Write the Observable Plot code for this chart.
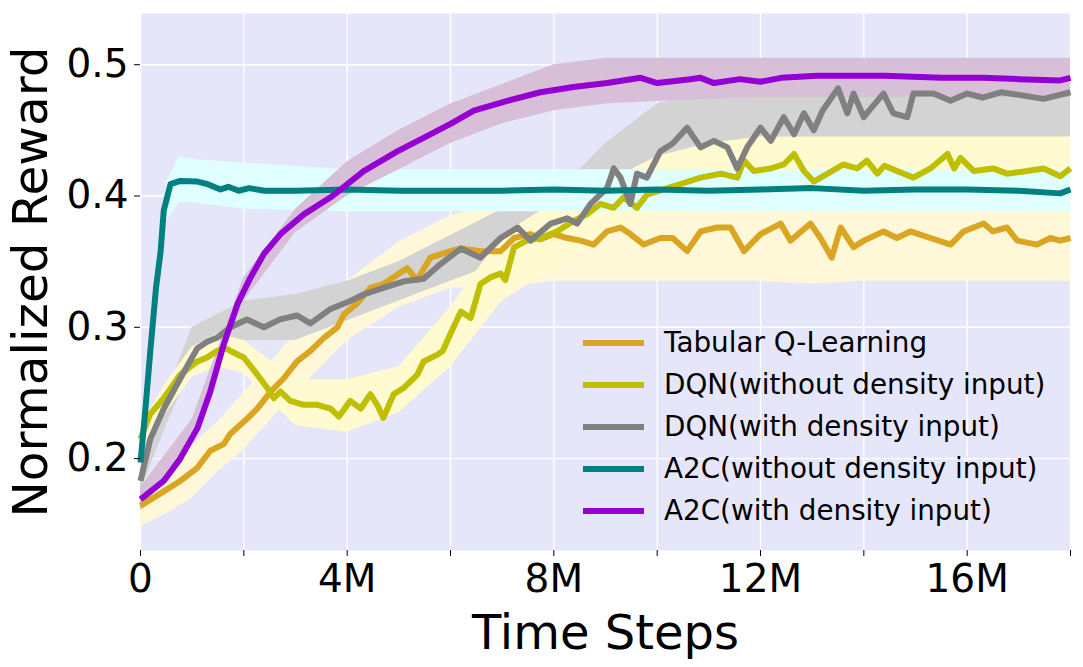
<!DOCTYPE html>
<html>
<head>
<meta charset="utf-8">
<script src="https://cdn.jsdelivr.net/npm/d3@7"></script>
<script src="https://cdn.jsdelivr.net/npm/@observablehq/plot@0.6"></script>
<style>
  html, body { margin: 0; padding: 0; background: #ffffff; }
  #wrap { position: relative; width: 1083px; height: 667px; font-family: "DejaVu Sans", sans-serif; }
  #legend { position: absolute; left: 583px; top: 322px; }
  .row { display: flex; align-items: center; height: 42px; }
  .sw { width: 61px; height: 6px; margin-right: 20px; }
  .lab { font-size: 27.8px; color: #000; white-space: nowrap; line-height: 1; }
</style>
</head>
<body>
<div id="wrap"><div id="legend"></div></div>
<script>
// ---- series names & colours ----
const seriesNames = ["Tabular Q-Learning", "DQN(without density input)", "DQN(with density input)", "A2C(without density input)", "A2C(with density input)"];
const lineColors = ["#DAA520", "#BFBF00", "#808080", "#008080", "#9400D3"];
const bandColors = ["#FFF8D8", "#FFFAD0", "#D3D3D3", "#E0FFFF", "#D8BFD8"];

// ---- x ticks (millions of steps) & y ticks ----
const xMajorTicks = [0, 4, 8, 12, 16];
const xMinorTicks = [2, 6, 10, 14, 18];
const xGrid = [0, 2, 4, 6, 8, 10, 12, 14, 16, 18];
const yTicks = [0.2, 0.3, 0.4, 0.5];

// ---- smoothed curves: [time (M), reward] ----
const tabularQ = [[0,0.164],[0.45,0.175],[0.77,0.183],[1.1,0.193],[1.35,0.206],[1.61,0.211],[1.74,0.219],[2.0,0.228],[2.26,0.238],[2.52,0.251],[2.77,0.261],[3.03,0.274],[3.29,0.282],[3.55,0.292],[3.81,0.300],[3.94,0.310],[4.19,0.318],[4.45,0.330],[4.7,0.333],[4.97,0.340],[5.16,0.345],[5.35,0.336],[5.61,0.353],[6.0,0.358],[6.2,0.360],[6.58,0.358],[6.97,0.358],[7.23,0.368],[7.55,0.371],[7.74,0.367],[8.0,0.371],[8.26,0.368],[8.52,0.366],[8.77,0.363],[9.03,0.373],[9.29,0.376],[9.48,0.371],[9.74,0.363],[10.06,0.368],[10.3,0.368],[10.58,0.358],[10.84,0.373],[11.16,0.376],[11.42,0.376],[11.68,0.358],[12.0,0.371],[12.39,0.379],[12.58,0.366],[12.97,0.379],[13.16,0.368],[13.38,0.353],[13.55,0.376],[13.8,0.361],[14.0,0.366],[14.38,0.373],[14.64,0.368],[14.9,0.373],[15.29,0.368],[15.68,0.363],[15.93,0.373],[16.32,0.379],[16.5,0.373],[16.77,0.376],[16.97,0.366],[17.35,0.363],[17.61,0.368],[17.8,0.366],[18,0.368]];
const dqnNoDensity = [[0,0.215],[0.19,0.234],[0.45,0.246],[0.77,0.264],[1.1,0.274],[1.29,0.277],[1.48,0.282],[1.65,0.284],[1.74,0.282],[2.0,0.277],[2.26,0.264],[2.45,0.254],[2.58,0.246],[2.71,0.251],[2.9,0.244],[3.16,0.241],[3.42,0.241],[3.68,0.238],[3.84,0.232],[4.06,0.244],[4.26,0.238],[4.45,0.249],[4.58,0.241],[4.7,0.231],[4.9,0.249],[5.1,0.254],[5.36,0.264],[5.48,0.274],[5.74,0.279],[5.85,0.282],[6.0,0.295],[6.2,0.312],[6.39,0.307],[6.58,0.333],[6.77,0.338],[6.97,0.341],[7.06,0.336],[7.23,0.361],[7.48,0.366],[7.74,0.368],[8.06,0.373],[8.38,0.381],[8.64,0.386],[8.9,0.394],[9.16,0.391],[9.35,0.399],[9.61,0.391],[9.8,0.401],[10.2,0.406],[10.45,0.409],[10.84,0.414],[11.23,0.417],[11.55,0.414],[11.68,0.427],[11.87,0.419],[12.2,0.421],[12.45,0.424],[12.65,0.432],[12.84,0.419],[13.03,0.411],[13.3,0.417],[13.6,0.424],[13.87,0.421],[14.06,0.427],[14.26,0.417],[14.4,0.423],[14.64,0.419],[14.96,0.414],[15.29,0.421],[15.62,0.432],[15.75,0.421],[15.87,0.429],[16.13,0.419],[16.5,0.421],[16.77,0.417],[17.16,0.419],[17.48,0.421],[17.8,0.415],[18,0.421]];
const dqnDensity = [[0,0.183],[0.19,0.215],[0.45,0.238],[0.77,0.261],[1.1,0.284],[1.29,0.289],[1.48,0.292],[1.74,0.300],[2.06,0.306],[2.39,0.300],[2.7,0.306],[3.03,0.309],[3.29,0.303],[3.68,0.314],[4.06,0.320],[4.32,0.325],[4.7,0.330],[5.1,0.335],[5.48,0.337],[5.8,0.348],[6.2,0.360],[6.58,0.353],[6.97,0.368],[7.3,0.376],[7.55,0.366],[7.94,0.379],[8.26,0.383],[8.45,0.379],[8.71,0.394],[9.03,0.406],[9.16,0.421],[9.29,0.414],[9.48,0.394],[9.61,0.417],[9.8,0.414],[10.06,0.434],[10.3,0.440],[10.58,0.452],[10.84,0.437],[11.1,0.442],[11.36,0.437],[11.55,0.421],[11.74,0.437],[12.0,0.452],[12.2,0.442],[12.45,0.460],[12.65,0.447],[12.84,0.463],[13.03,0.450],[13.2,0.465],[13.5,0.482],[13.68,0.463],[13.8,0.478],[14.0,0.460],[14.1,0.465],[14.38,0.478],[14.57,0.463],[14.84,0.460],[14.96,0.478],[15.35,0.478],[15.68,0.4725],[16.0,0.478],[16.3,0.475],[16.65,0.479],[17.0,0.477],[17.48,0.474],[18,0.479]];
const a2cNoDensity = [[0,0.197],[0.1,0.240],[0.19,0.282],[0.3,0.330],[0.39,0.358],[0.45,0.389],[0.58,0.409],[0.77,0.4115],[1.1,0.411],[1.3,0.409],[1.55,0.405],[1.7,0.407],[1.9,0.404],[2.1,0.406],[2.4,0.404],[3.0,0.404],[4,0.405],[5,0.404],[6,0.404],[7,0.404],[8,0.405],[9,0.404],[10,0.405],[11,0.404],[12,0.405],[13,0.406],[14,0.404],[15,0.405],[16,0.405],[17,0.404],[17.8,0.402],[18,0.405]];
const a2cDensity = [[0,0.169],[0.45,0.183],[0.77,0.200],[1.1,0.223],[1.35,0.251],[1.61,0.287],[1.88,0.318],[2.13,0.338],[2.39,0.356],[2.71,0.371],[3.16,0.386],[3.68,0.399],[4.32,0.419],[4.97,0.434],[5.61,0.447],[6.0,0.455],[6.45,0.465],[7.1,0.4725],[7.74,0.479],[8.38,0.483],[9.03,0.486],[9.68,0.490],[10.0,0.486],[10.64,0.489],[10.84,0.490],[11.1,0.486],[11.6,0.489],[12.0,0.487],[12.4,0.490],[13.1,0.4915],[14.4,0.4915],[15.5,0.490],[16.3,0.490],[17.0,0.489],[17.8,0.488],[18,0.490]];

// ---- raw-reward spread bands: [time (M), low, high] ----
const tabularQBand = [[0,0.148,0.180],[0.5,0.158,0.192],[1,0.170,0.210],[1.5,0.190,0.228],[2,0.207,0.250],[3,0.250,0.295],[4,0.290,0.335],[5,0.315,0.365],[6,0.330,0.385],[7,0.330,0.395],[8,0.335,0.405],[9,0.335,0.410],[10,0.335,0.405],[11,0.335,0.410],[12,0.335,0.410],[13,0.333,0.410],[14,0.335,0.405],[15,0.335,0.405],[16,0.335,0.410],[17,0.335,0.405],[18,0.335,0.405]];
const dqnNoDensityBand = [[0,0.205,0.225],[0.5,0.235,0.258],[1,0.262,0.285],[1.5,0.270,0.295],[2,0.265,0.290],[3,0.225,0.260],[4,0.220,0.260],[5,0.235,0.270],[6,0.270,0.315],[7,0.320,0.370],[8,0.345,0.395],[9,0.370,0.410],[10,0.385,0.430],[11,0.390,0.440],[12,0.390,0.445],[13,0.390,0.445],[14,0.390,0.445],[15,0.390,0.445],[16,0.390,0.445],[17,0.390,0.445],[18,0.390,0.445]];
const dqnDensityBand = [[0,0.175,0.195],[0.5,0.225,0.250],[1,0.270,0.300],[1.5,0.280,0.310],[2,0.290,0.320],[3,0.290,0.325],[4,0.305,0.335],[5,0.320,0.350],[6,0.335,0.370],[7,0.350,0.390],[8,0.360,0.400],[9,0.380,0.440],[10,0.400,0.470],[11,0.410,0.480],[12,0.420,0.490],[13,0.430,0.500],[14,0.440,0.500],[15,0.440,0.500],[16,0.440,0.500],[17,0.440,0.500],[18,0.445,0.500]];
const a2cNoDensityBand = [[0,0.190,0.205],[0.2,0.270,0.300],[0.4,0.350,0.375],[0.5,0.380,0.410],[0.75,0.395,0.430],[1,0.395,0.428],[2,0.390,0.425],[4,0.388,0.420],[6,0.388,0.420],[8,0.388,0.420],[10,0.388,0.420],[12,0.388,0.420],[14,0.388,0.420],[16,0.388,0.420],[18,0.388,0.420]];
const a2cDensityBand = [[0,0.160,0.178],[1,0.212,0.230],[2,0.320,0.338],[3,0.372,0.390],[4,0.400,0.426],[5,0.420,0.450],[6,0.440,0.470],[7,0.455,0.485],[8,0.465,0.500],[9,0.470,0.505],[10,0.472,0.505],[12,0.475,0.505],[14,0.475,0.505],[16,0.475,0.505],[18,0.475,0.505]];

const curves = [tabularQ, dqnNoDensity, dqnDensity, a2cNoDensity, a2cDensity];
const bands = [tabularQBand, dqnNoDensityBand, dqnDensityBand, a2cNoDensityBand, a2cDensityBand];
const bandOrder = [0, 2, 1, 3, 4];

const toPts = arr => arr.map(([t, v]) => ({t, v}));
const toBand = arr => arr.map(([t, lo, hi]) => ({t, lo, hi}));
const fmtX = d => d === 0 ? "0" : `${d}M`;

const chart = Plot.plot({
  width: 1083,
  height: 667,
  marginLeft: 140,
  marginRight: 13,
  marginTop: 13,
  marginBottom: 117,
  style: {fontFamily: "DejaVu Sans, sans-serif", background: "transparent", color: "#000"},
  x: {domain: [0, 18]},
  y: {domain: [0.13, 0.539]},
  marks: [
    Plot.frame({fill: "#E6E6FA", stroke: null}),
    Plot.gridX(xGrid, {stroke: "#ffffff", strokeOpacity: 1, strokeWidth: 1.4}),
    Plot.gridY(yTicks, {stroke: "#ffffff", strokeOpacity: 1, strokeWidth: 1.4}),
    ...bandOrder.map(i => Plot.areaY(toBand(bands[i]), {x: "t", y1: "lo", y2: "hi", fill: bandColors[i], fillOpacity: 1})),
    ...curves.map((c, i) => Plot.line(toPts(c), {x: "t", y: "v", stroke: lineColors[i], strokeWidth: 6, strokeLinejoin: "round", strokeLinecap: "butt"})),
    Plot.axisX(xMajorTicks, {tickFormat: fmtX, tickSize: 6, tickPadding: 8, fontSize: 39, label: null, stroke: "#000"}),
    Plot.axisX(xMinorTicks, {tickFormat: () => "", tickSize: 6, label: null, stroke: "#000"}),
    Plot.axisY(yTicks, {tickFormat: d => d.toFixed(1), tickSize: 6, tickPadding: 6, fontSize: 39, label: null, stroke: "#000"}),
    Plot.text(["Time Steps"], {frameAnchor: "bottom", lineAnchor: "middle", textAnchor: "middle", dy: 83, fontSize: 48, fill: "#000"}),
    Plot.text(["Normalized Reward"], {frameAnchor: "left", lineAnchor: "middle", textAnchor: "middle", dx: -109, rotate: -90, fontSize: 48.5, fill: "#000"})
  ]
});

const wrap = document.getElementById("wrap");
wrap.insertBefore(chart, wrap.firstChild);

const legend = document.getElementById("legend");
seriesNames.forEach((name, i) => {
  const row = document.createElement("div");
  row.className = "row";
  const sw = document.createElement("div");
  sw.className = "sw";
  sw.style.background = lineColors[i];
  const lab = document.createElement("div");
  lab.className = "lab";
  lab.textContent = name;
  row.appendChild(sw);
  row.appendChild(lab);
  legend.appendChild(row);
});
</script>
</body>
</html>
